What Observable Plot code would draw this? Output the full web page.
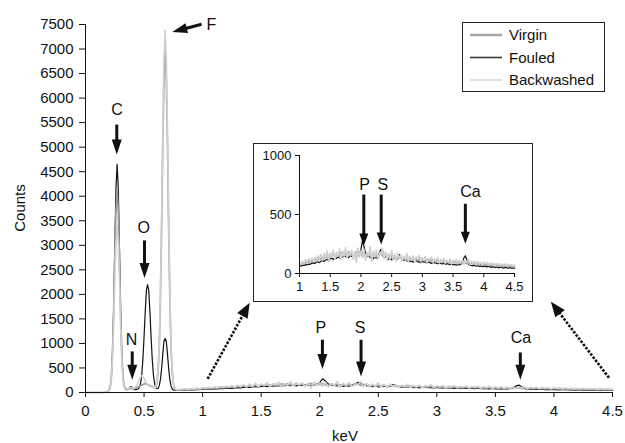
<!DOCTYPE html>
<html><head><meta charset="utf-8">
<script src="https://cdn.jsdelivr.net/npm/d3@7"></script>
<script src="https://cdn.jsdelivr.net/npm/@observablehq/plot@0.6"></script>
<style>
html,body{margin:0;padding:0;background:#fff;}
#wrap{position:relative;width:625px;height:443px;overflow:hidden;font-family:"Liberation Sans",Arial,Helvetica,sans-serif;color:#111;}
#main{position:absolute;left:0;top:0;}
#inset{position:absolute;left:253px;top:143px;width:278px;height:157px;border:1px solid #222;background:#fff;}
#legend{position:absolute;left:462px;top:22px;width:141px;height:68px;border:1px solid #222;background:#fff;}
.axlabel{position:absolute;font-size:15px;white-space:nowrap;}
</style></head>
<body><div id="wrap"><div id="main"></div><div id="inset"></div><div id="legend"></div>
<div class="axlabel" style="left:19px;top:208px;transform:translate(-50%,-50%) rotate(-90deg);">Counts</div>
<div class="axlabel" style="left:345px;top:427px;transform:translateX(-50%);">keV</div>
</div>
<script>
// ---------- data ----------
const energy = [0,0.05,0.10,0.15,
0.16,0.17,0.18,0.19,0.20,0.21,0.22,0.23,0.24,0.25,
0.26,0.27,0.28,0.29,0.30,0.31,0.32,0.33,0.34,0.35,
0.36,0.37,0.38,0.39,0.40,0.41,0.42,0.43,0.44,0.45,
0.46,0.47,0.48,0.49,0.50,0.51,0.52,0.53,0.54,0.55,
0.56,0.57,0.58,0.59,0.60,0.61,0.62,0.63,0.64,0.65,
0.66,0.67,0.68,0.69,0.70,0.71,0.72,0.73,0.74,0.75,
0.76,0.77,0.78,0.79,0.80,
0.825,0.85,0.875,0.9,0.925,0.95,0.975,1,
1.025,1.05,1.075,1.1,1.125,1.15,1.175,1.2,
1.225,1.25,1.275,1.3,1.325,1.35,1.375,1.4,
1.425,1.45,1.475,1.5,1.525,1.55,1.575,1.6,
1.625,1.65,1.675,1.7,1.725,1.75,1.775,1.8,
1.825,1.85,1.875,1.9,1.925,1.95,1.975,2,
2.025,2.05,2.075,2.1,2.125,2.15,2.175,2.2,
2.225,2.25,2.275,2.3,2.325,2.35,2.375,2.4,
2.425,2.45,2.475,2.5,2.525,2.55,2.575,2.6,
2.625,2.65,2.675,2.7,2.725,2.75,2.775,2.8,
2.825,2.85,2.875,2.9,2.925,2.95,2.975,3,
3.025,3.05,3.075,3.1,3.125,3.15,3.175,3.2,
3.225,3.25,3.275,3.3,3.325,3.35,3.375,3.4,
3.425,3.45,3.475,3.5,3.525,3.55,3.575,3.6,
3.625,3.65,3.675,3.7,3.725,3.75,3.775,3.8,
3.825,3.85,3.875,3.9,3.925,3.95,3.975,4,
4.025,4.05,4.075,4.1,4.125,4.15,4.175,4.2,
4.225,4.25,4.275,4.3,4.325,4.35,4.375,4.4,
4.425,4.45,4.475,4.5];

const fouled = [0,0,0,0,
0,5,10,20,40,90,280,760,1670,2950,
4150,4650,4150,2950,1670,760,300,120,70,60,
60,75,105,120,100,70,60,60,62,75,
104,183,357,672,1130,1650,2080,2200,2080,1650,
1130,672,357,183,104,77,86,140,266,490,
783,1045,1100,1045,783,490,266,135,75,55,
50,48,46,45,45,
46,50,48,55,52,60,58,65,
62,70,68,75,72,80,78,86,
90,84,95,100,92,105,110,102,
115,120,108,125,130,118,135,128,
140,132,145,138,150,142,148,135,
152,145,160,148,140,155,170,200,
280,230,170,150,145,135,150,125,
140,130,150,175,205,190,160,140,
130,120,135,115,125,130,118,125,
160,140,115,110,120,105,112,100,
108,95,105,112,98,100,92,105,
95,100,88,98,92,85,95,90,
88,82,90,85,80,88,78,84,
80,75,82,72,78,70,76,72,
78,95,130,150,115,80,70,68,
65,70,62,66,60,64,58,62,
60,55,62,56,52,58,50,55,
52,48,55,50,46,52,48,45,
50,46,48,45];

const virgin = [0,0,0,0,
0,5,10,20,45,100,310,790,1620,2710,
3700,4100,3700,2710,1620,790,330,140,85,70,
65,70,80,85,80,75,80,90,100,110,
125,140,150,160,175,180,175,160,150,140,
130,120,110,105,100,200,450,940,1930,3380,
5050,6410,6950,6410,5050,3380,1930,940,450,190,
90,60,52,50,52,
55,62,58,70,65,75,68,80,
85,78,92,88,100,95,105,98,
110,120,105,125,118,135,112,140,
130,150,125,160,138,170,145,155,
165,140,180,150,175,160,145,185,
150,170,140,165,185,150,175,160,
180,155,140,170,150,165,135,160,
145,170,130,160,175,150,140,165,
135,150,125,145,130,155,120,140,
130,145,118,135,125,110,130,120,
115,128,108,120,112,125,105,118,
110,120,100,115,105,112,98,108,
102,110,95,106,98,104,92,100,
95,102,88,98,90,96,85,92,
88,95,100,92,85,90,82,88,
80,86,76,84,78,82,74,80,
76,70,78,72,68,74,66,72,
68,64,70,62,66,60,64,58,
62,58,60,56];

const backwashed = [0,0,0,0,
0,5,10,18,40,85,260,650,1340,2250,
3070,3400,3070,2250,1340,650,280,120,80,70,
72,80,95,100,90,85,95,120,160,210,
270,320,340,330,290,240,190,160,140,130,
120,115,110,108,105,210,470,1000,2050,3590,
5360,6810,7380,6810,5360,3590,2050,1000,470,200,
95,65,58,55,58,
60,75,55,80,68,90,72,95,
80,105,85,115,95,125,100,130,
105,140,110,150,120,160,115,170,
125,190,110,175,140,200,120,180,
150,210,115,190,145,220,130,175,
160,200,120,185,95,215,140,190,
130,205,110,180,150,225,105,190,
140,200,120,175,160,215,125,185,
110,170,130,195,115,165,100,175,
125,160,105,150,120,170,100,145,
115,150,95,140,120,155,100,135,
110,145,90,130,115,140,95,125,
105,135,90,120,100,130,85,115,
95,125,80,115,90,120,85,110,
90,115,80,110,95,120,75,105,
85,105,75,100,80,95,70,95,
80,95,70,90,75,88,65,85,
72,85,65,80,70,82,62,78,
68,76,60,70];

const xTicks = [0,0.5,1,1.5,2,2.5,3,3.5,4,4.5];
const yTicks = [0,500,1000,1500,2000,2500,3000,3500,4000,4500,5000,5500,6000,6500,7000,7500];
const insetXTicks = [1,1.5,2,2.5,3,3.5,4,4.5];
const insetYTicks = [0,500,1000];

const seriesOrder = ["Fouled","Virgin","Backwashed"];
const legendOrder = ["Virgin","Fouled","Backwashed"];

const mainLabels = [
  {t:"C",x:0.269,y:5760},{t:"O",x:0.498,y:3360},{t:"N",x:0.393,y:1080},
  {t:"F",x:1.074,y:7484},{t:"P",x:2.009,y:1327},{t:"S",x:2.345,y:1327},{t:"Ca",x:3.718,y:1106}];
const mainArrows = [
  {x1:0.267,y1:5460,x2:0.267,y2:4850},{x1:0.504,y1:3100,x2:0.504,y2:2335},
  {x1:0.399,y1:837,x2:0.399,y2:259},{x1:2.023,y1:1076,x2:2.023,y2:478},
  {x1:2.353,y1:1076,x2:2.353,y2:327},{x1:3.713,y1:816,x2:3.713,y2:259},
  {x1:0.991,y1:7504,x2:0.741,y2:7347}];
const mainDotted = [
  {x1:1.043,y1:280,x2:1.402,y2:1830},{x1:4.47,y1:300,x2:3.974,y2:1851}];
const insetLabels = [
  {t:"P",x:2.058,y:754},{t:"S",x:2.356,y:754},{t:"Ca",x:3.784,y:695}];
const insetArrows = [
  {x1:2.047,y1:669,x2:2.047,y2:237},{x1:2.33,y1:669,x2:2.33,y2:246},
  {x1:3.70,y1:591,x2:3.70,y2:252}];

// ---------- styles ----------
const colors = {Virgin:"#9d9d9d", Fouled:"#111111", Backwashed:"#d0d0d0"};
const widths = {Virgin:1.7, Fouled:1.2, Backwashed:1.6};
const series = {Virgin:virgin, Fouled:fouled, Backwashed:backwashed};
const fontFamily = '"Liberation Sans", Arial, Helvetica, sans-serif';

function headSymbol(w, h) {
  return {draw(ctx) { ctx.moveTo(0, 0); ctx.lineTo(-w / 2, -h); ctx.lineTo(w / 2, -h); ctx.closePath(); }};
}
function arrowMarks(arrows, kx, ky, o) {
  const p = arrows.map(a => {
    const dx = (a.x2 - a.x1) * kx, dy = -(a.y2 - a.y1) * ky;
    const L = Math.hypot(dx, dy);
    const f = Math.min(0.9, o.back / L);
    return {...a, rot: Math.atan2(-dx, dy) * 180 / Math.PI,
      xe: a.x2 + (a.x1 - a.x2) * f, ye: a.y2 + (a.y1 - a.y2) * f};
  });
  return [
    Plot.link(p, {x1: "x1", y1: "y1", x2: "xe", y2: "ye", stroke: "#111", strokeWidth: o.sw, strokeDasharray: o.dash}),
    Plot.dot(p, {x: "x2", y: "y2", r: 5, symbol: headSymbol(o.hw, o.hh), fill: "#111", stroke: "none", rotate: "rot"})
  ];
}
function lineMarks(filterFn) {
  return seriesOrder.map(name => {
    const d = energy.map((e, i) => ({e, v: series[name][i]})).filter(filterFn);
    return Plot.line(d, {x: "e", y: "v", stroke: colors[name], strokeWidth: widths[name], strokeLinejoin: "round"});
  });
}

// ---------- main chart ----------
const M = {w: 625, h: 443, ml: 85, mr: 13, mt: 24, mb: 51};
const kx = (M.w - M.ml - M.mr) / 4.5, ky = (M.h - M.mt - M.mb) / 7500;
const main = Plot.plot({
  width: M.w, height: M.h,
  marginLeft: M.ml, marginRight: M.mr, marginTop: M.mt, marginBottom: M.mb,
  style: {fontFamily, fontSize: "15px", color: "#111", background: "transparent", overflow: "visible"},
  x: {domain: [0, 4.5], ticks: xTicks, tickSize: 5, tickPadding: 8, tickFormat: d => String(d), label: null},
  y: {domain: [0, 7500], ticks: yTicks, tickSize: 6, tickPadding: 6, tickFormat: d => String(d), label: null},
  marks: [
    ...lineMarks(() => true),
    Plot.ruleY([0], {stroke: "#111", strokeWidth: 1}),
    Plot.ruleX([0], {stroke: "#111", strokeWidth: 1}),
    ...arrowMarks(mainArrows, kx, ky, {sw: 3, hw: 10, hh: 15, back: 8}),
    ...arrowMarks(mainDotted, kx, ky, {sw: 2.6, hw: 12, hh: 15, back: 9, dash: "2.5,1.5"}),
    Plot.text(mainLabels, {x: "x", y: "y", text: "t", fontSize: 16, fill: "#111"})
  ]
});
document.getElementById("main").appendChild(main);

// ---------- inset ----------
const I = {w: 278, h: 157, ml: 45, mr: 18, mt: 11, mb: 28};
const ikx = (I.w - I.ml - I.mr) / 3.5, iky = (I.h - I.mt - I.mb) / 1000;
const inset = Plot.plot({
  width: I.w, height: I.h,
  marginLeft: I.ml, marginRight: I.mr, marginTop: I.mt, marginBottom: I.mb,
  style: {fontFamily, fontSize: "13px", color: "#111", background: "#fff", overflow: "visible"},
  x: {domain: [1, 4.5], ticks: insetXTicks, tickSize: 4, tickPadding: 4, tickFormat: d => String(d), label: null},
  y: {domain: [0, 1000], ticks: insetYTicks, tickSize: 4, tickPadding: 4, tickFormat: d => String(d), label: null},
  marks: [
    ...lineMarks(d => d.e >= 1),
    Plot.ruleY([0], {stroke: "#111", strokeWidth: 1}),
    Plot.ruleX([1], {stroke: "#111", strokeWidth: 1}),
    ...arrowMarks(insetArrows, ikx, iky, {sw: 3, hw: 9, hh: 12, back: 7}),
    Plot.text(insetLabels, {x: "x", y: "y", text: "t", fontSize: 16, fill: "#111"})
  ]
});
document.getElementById("inset").appendChild(inset);

// ---------- legend ----------
const legendColors = {Virgin: "#a8a8a8", Fouled: "#3a3a3a", Backwashed: "#dadada"};
const legendWidths = {Virgin: 2.5, Fouled: 1.6, Backwashed: 1.6};
const ns = "http://www.w3.org/2000/svg";
const lg = document.createElementNS(ns, "svg");
lg.setAttribute("width", 141); lg.setAttribute("height", 68);
legendOrder.forEach((name, i) => {
  const y = 12 + i * 22.5;
  const ln = document.createElementNS(ns, "line");
  ln.setAttribute("x1", 7); ln.setAttribute("x2", 39); ln.setAttribute("y1", y); ln.setAttribute("y2", y);
  ln.setAttribute("stroke", legendColors[name]); ln.setAttribute("stroke-width", legendWidths[name]);
  lg.appendChild(ln);
  const tx = document.createElementNS(ns, "text");
  tx.setAttribute("x", 46); tx.setAttribute("y", y + 5.3);
  tx.setAttribute("font-size", 15); tx.setAttribute("font-family", fontFamily); tx.setAttribute("fill", "#111");
  tx.textContent = name;
  lg.appendChild(tx);
});
document.getElementById("legend").appendChild(lg);
</script>
</body></html>
